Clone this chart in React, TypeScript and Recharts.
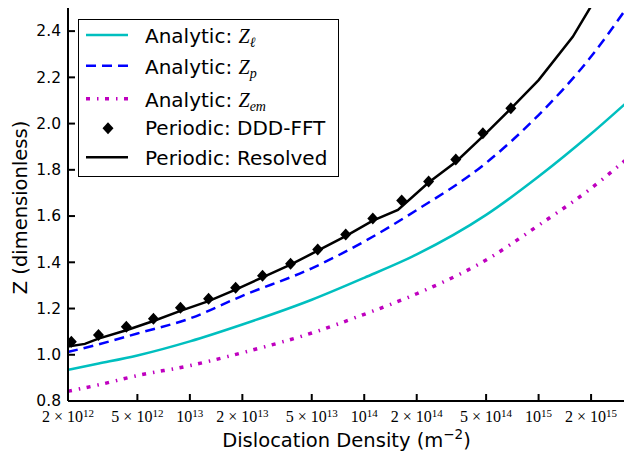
import React from "react";
import { ComposedChart, Line, Scatter, XAxis, YAxis, Legend } from "recharts";

// densities (m^-2) where the analytic curves were read
const ANALYTIC_X = [2e12, 3e12, 5e12, 1e13, 2e13, 5e13, 1e14, 2e14, 5e14, 1e15, 2e15, 3.13e15];
const Z_ELL = [0.935, 0.962, 0.997, 1.058, 1.131, 1.238, 1.333, 1.434, 1.605, 1.771, 1.956, 2.085];
const Z_P = [1.012, 1.045, 1.092, 1.157, 1.255, 1.374, 1.49, 1.626, 1.83, 2.037, 2.29, 2.49];
const Z_EM = [0.842, 0.87, 0.91, 0.953, 1.009, 1.094, 1.175, 1.264, 1.41, 1.56, 1.72, 1.84];

// periodic DDD-FFT markers
const DDD_X = [2.09e12, 2.99e12, 4.32e12, 6.18e12, 8.83e12, 1.28e13, 1.83e13, 2.61e13, 3.78e13, 5.41e13, 7.83e13, 1.12e14, 1.64e14, 2.34e14, 3.35e14, 4.79e14, 6.93e14];
const DDD_Z = [1.056, 1.086, 1.121, 1.156, 1.203, 1.242, 1.29, 1.342, 1.394, 1.455, 1.52, 1.589, 1.667, 1.75, 1.845, 1.958, 2.066];

// periodic resolved curve
const RES_X = [2e12, 2.5e12, 2.99e12, 4.32e12, 6.18e12, 8.83e12, 1.28e13, 1.83e13, 2.61e13, 3.78e13, 5.41e13, 7.83e13, 1.12e14, 1.56e14, 2.34e14, 3.35e14, 4.79e14, 6.93e14, 1e15, 1.57e15, 2.2e15];
const RES_Z = [1.036, 1.047, 1.07, 1.106, 1.146, 1.19, 1.232, 1.282, 1.335, 1.39, 1.45, 1.513, 1.58, 1.627, 1.745, 1.834, 1.945, 2.065, 2.188, 2.375, 2.56];

const X_TICKS = [2e12, 5e12, 1e13, 2e13, 5e13, 1e14, 2e14, 5e14, 1e15, 2e15];
const Y_TICKS = [0.8, 1.0, 1.2, 1.4, 1.6, 1.8, 2.0, 2.2, 2.4];

const X_DOMAIN = [2e12, 3.13e15];
const Y_DOMAIN = [0.8, 2.5];

const zip = (xs: number[], zs: number[]) => xs.map((x, i) => ({ x, z: zs[i] }));

const CYAN = "#00bfbf";
const BLUE = "#0000ff";
const MAGENTA = "#bf00bf";
const EM_DASH = "4 7 1.5 6.5";
const P_DASH = "10 6";

const SANS = "DejaVu Sans";
const SERIF = "Liberation Serif";

function BottomTick({ x, y, payload }: any) {
  const v = payload.value;
  const exp = Math.floor(Math.log10(v) + 1e-9);
  const mant = Math.round(v / Math.pow(10, exp));
  const prefix = mant === 1 ? "10" : `${mant} × 10`;
  return (
    <g>
      <line x1={x} y1={y} x2={x} y2={y - 7} stroke="#000" strokeWidth={2} />
      <text x={x} y={y + 21} textAnchor="middle" fontFamily={SERIF} fontSize={16} fill="#000">
        {prefix}
        <tspan dy={-5.5} fontSize={11}>{exp}</tspan>
      </text>
    </g>
  );
}

function TopTick({ x, y }: any) {
  return <line x1={x} y1={y} x2={x} y2={y + 7} stroke="#000" strokeWidth={2} />;
}

function LeftTick({ x, y, payload }: any) {
  return (
    <g>
      <line x1={x} y1={y} x2={x + 7} y2={y} stroke="#000" strokeWidth={2} />
      <text x={x - 7} y={y} dy="0.34em" textAnchor="end" fontFamily={SANS} fontSize={15.5} fill="#000">
        {Number(payload.value).toFixed(1)}
      </text>
    </g>
  );
}

function RightTick({ x, y }: any) {
  return <line x1={x} y1={y} x2={x - 7} y2={y} stroke="#000" strokeWidth={2} />;
}

function Diamond({ cx, cy }: any) {
  if (cx == null || cy == null) return null;
  return <polygon points={`${cx},${cy - 6} ${cx + 5.5},${cy} ${cx},${cy + 6} ${cx - 5.5},${cy}`} fill="#000" />;
}

function MathZ({ sub }: { sub: string }) {
  return (
    <>
      <tspan fontFamily={SERIF} fontStyle="italic">Z</tspan>
      <tspan fontFamily={SERIF} fontStyle="italic" fontSize={14} dy={4}>{sub}</tspan>
    </>
  );
}

function LegendBox() {
  return (
    <svg width={261} height={158} style={{ display: "block" }}>
      <rect x={0.5} y={0.5} width={260} height={157} fill="#fff" stroke="#000" strokeWidth={1} />
      <line x1={8} y1={16} x2={50} y2={16} stroke={CYAN} strokeWidth={2.5} />
      <text x={67} y={23.7} fontFamily={SANS} fontSize={20} fill="#000">
        {"Analytic: "}
        <MathZ sub="ℓ" />
      </text>
      <line x1={8} y1={46.7} x2={50} y2={46.7} stroke={BLUE} strokeWidth={2.5} strokeDasharray={P_DASH} />
      <text x={67} y={55} fontFamily={SANS} fontSize={20} fill="#000">
        {"Analytic: "}
        <MathZ sub="p" />
      </text>
      <line x1={8} y1={79.7} x2={50} y2={79.7} stroke={MAGENTA} strokeWidth={3.5} strokeDasharray={EM_DASH} />
      <text x={67} y={87.7} fontFamily={SANS} fontSize={20} fill="#000">
        {"Analytic: "}
        <MathZ sub="em" />
      </text>
      <Diamond cx={30} cy={109.3} />
      <text x={67} y={116} fontFamily={SANS} fontSize={20} fill="#000">Periodic: DDD-FFT</text>
      <line x1={8} y1={138.3} x2={50} y2={138.3} stroke="#000" strokeWidth={2.5} />
      <text x={67} y={146} fontFamily={SANS} fontSize={20} fill="#000">Periodic: Resolved</text>
    </svg>
  );
}

function XTitle({ viewBox }: any) {
  const { x, y, width } = viewBox;
  return (
    <text x={x + width / 2} y={y + 46} textAnchor="middle" fontFamily={SANS} fontSize={19.5} fill="#000">
      {"Dislocation Density (m"}
      <tspan dy={-8} fontSize={13.5}>−2</tspan>
      <tspan dy={8}>)</tspan>
    </text>
  );
}

function YTitle({ viewBox }: any) {
  const { y, height } = viewBox;
  const cy = y + height / 2 + 3;
  return (
    <text x={20} y={cy} transform={`rotate(-90 20 ${cy})`} textAnchor="middle" dy="0.35em" fontFamily={SANS} fontSize={19.5} fill="#000">
      Z (dimensionless)
    </text>
  );
}

export default function App() {
  return (
    <div style={{ position: "absolute", left: 0, top: 0, width: 624, height: 453, overflow: "hidden", background: "#fff" }}>
      <ComposedChart width={626} height={453} margin={{ top: 8, right: 1, bottom: 0, left: 0 }}>
        <XAxis
          type="number"
          dataKey="x"
          scale="log"
          domain={X_DOMAIN}
          ticks={X_TICKS}
          interval={0}
          allowDataOverflow
          height={52}
          tickSize={0}
          tickMargin={0}
          tickLine={false}
          axisLine={{ stroke: "#000", strokeWidth: 2 }}
          tick={<BottomTick />}
          label={{ content: (p: any) => <XTitle {...p} /> }}
        />
        <XAxis
          xAxisId="top"
          orientation="top"
          type="number"
          dataKey="x"
          scale="log"
          domain={X_DOMAIN}
          ticks={X_TICKS}
          interval={0}
          allowDataOverflow
          height={0}
          tickSize={0}
          tickMargin={0}
          tickLine={false}
          axisLine={{ stroke: "#000", strokeWidth: 2 }}
          tick={<TopTick />}
        />
        <YAxis
          type="number"
          dataKey="z"
          domain={Y_DOMAIN}
          ticks={Y_TICKS}
          interval={0}
          allowDataOverflow
          width={68}
          tickSize={0}
          tickMargin={0}
          tickLine={false}
          axisLine={{ stroke: "#000", strokeWidth: 2 }}
          tick={<LeftTick />}
          label={{ content: (p: any) => <YTitle {...p} /> }}
        />
        <YAxis
          yAxisId="right"
          orientation="right"
          type="number"
          dataKey="z"
          domain={Y_DOMAIN}
          ticks={Y_TICKS}
          interval={0}
          allowDataOverflow
          width={0}
          tickSize={0}
          tickMargin={0}
          tickLine={false}
          axisLine={{ stroke: "#000", strokeWidth: 2 }}
          tick={<RightTick />}
        />
        <Legend
          layout="vertical"
          align="center"
          verticalAlign="middle"
          wrapperStyle={{ left: 78, top: 19, width: 261, height: 158 }}
          content={() => <LegendBox />}
        />
        <Line data={zip(ANALYTIC_X, Z_ELL)} dataKey="z" type="monotone" stroke={CYAN} strokeWidth={2.5} dot={false} isAnimationActive={false} />
        <Line data={zip(ANALYTIC_X, Z_P)} dataKey="z" type="monotone" stroke={BLUE} strokeWidth={2.5} strokeDasharray={P_DASH} dot={false} isAnimationActive={false} />
        <Line data={zip(ANALYTIC_X, Z_EM)} dataKey="z" type="monotone" stroke={MAGENTA} strokeWidth={3.5} strokeDasharray={EM_DASH} dot={false} isAnimationActive={false} />
        <Scatter data={zip(DDD_X, DDD_Z)} dataKey="z" fill="#000" shape={(p: any) => <Diamond {...p} />} isAnimationActive={false} />
        <Line data={zip(RES_X, RES_Z)} dataKey="z" type="linear" stroke="#000" strokeWidth={2.5} dot={false} isAnimationActive={false} />
      </ComposedChart>
    </div>
  );
}
